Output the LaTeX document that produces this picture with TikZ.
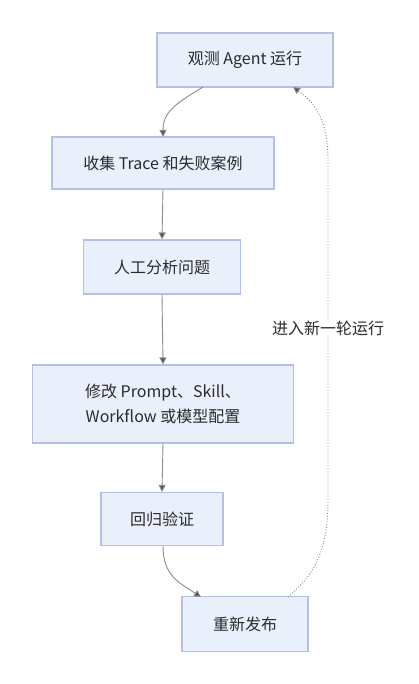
\documentclass[tikz,border=0pt]{standalone}
\usepackage{fontspec}
\setmainfont{Noto Sans CJK SC}
\usetikzlibrary{arrows.meta}
\definecolor{boxfill}{HTML}{EAF0FB}
\definecolor{boxdraw}{HTML}{B4C0E4}
\definecolor{lnc}{HTML}{8C8C8C}
\definecolor{tipc}{HTML}{555555}
\definecolor{txt}{HTML}{2A2A2A}
\begin{document}
\begin{tikzpicture}[x=1pt,y=-1pt,
  flowbox/.style={draw=boxdraw,fill=boxfill,line width=1.2pt,minimum height=53pt,align=center,font=\fontsize{16}{25}\selectfont,text=txt,inner sep=0pt},
  conn/.style={draw=lnc,line width=0.9pt,-{Triangle[length=7pt,width=7pt,fill=tipc]}},
  back/.style={draw=lnc,line width=0.9pt,dash pattern=on 1pt off 1.8pt,-{Triangle[length=7pt,width=7pt,fill=tipc]}}]
\useasboundingbox (0,0) rectangle (419,684);
\node[flowbox,minimum width=176pt,minimum height=54pt] (a) at (245,60) {观测 Agent 运行};
\node[flowbox,minimum width=222pt,minimum height=52pt] (b) at (163,163) {收集 Trace 和失败案例};
\node[flowbox,minimum width=157pt,minimum height=54pt] (c) at (162,267) {人工分析问题};
\node[flowbox,minimum width=261pt,minimum height=78pt] (d) at (163,404) {修改 Prompt、Skill、\\Workflow 或模型配置};
\node[flowbox,minimum width=122pt,minimum height=53pt] (e) at (162,519) {回归验证};
\node[flowbox,minimum width=126pt,minimum height=55pt] (f) at (245,624) {重新发布};
\coordinate (a1) at (203,87);
\coordinate (b1) at (163,137);
\draw[conn] (a1) .. controls (175,104) and (163,112) .. (b1);
\draw[conn] (b.south) -- (c.north);
\draw[conn] (c.south) -- (d.north);
\draw[conn] (d.south) -- (e.north);
\coordinate (e1) at (163,546);
\coordinate (f1) at (201,597);
\draw[conn] (e1) .. controls (163,575) and (178,582) .. (f1);
\coordinate (f2) at (288,597);
\coordinate (a2) at (293,87);
\draw[back] (f2) .. controls (318,572) and (328,545) .. (328,500) -- (328,160) .. controls (328,125) and (318,105) .. (a2);
\node[fill=white,font=\fontsize{16}{20}\selectfont,text=txt,inner sep=1pt] (lbl) at (328,328) {进入新一轮运行};
\end{tikzpicture}
\end{document}
